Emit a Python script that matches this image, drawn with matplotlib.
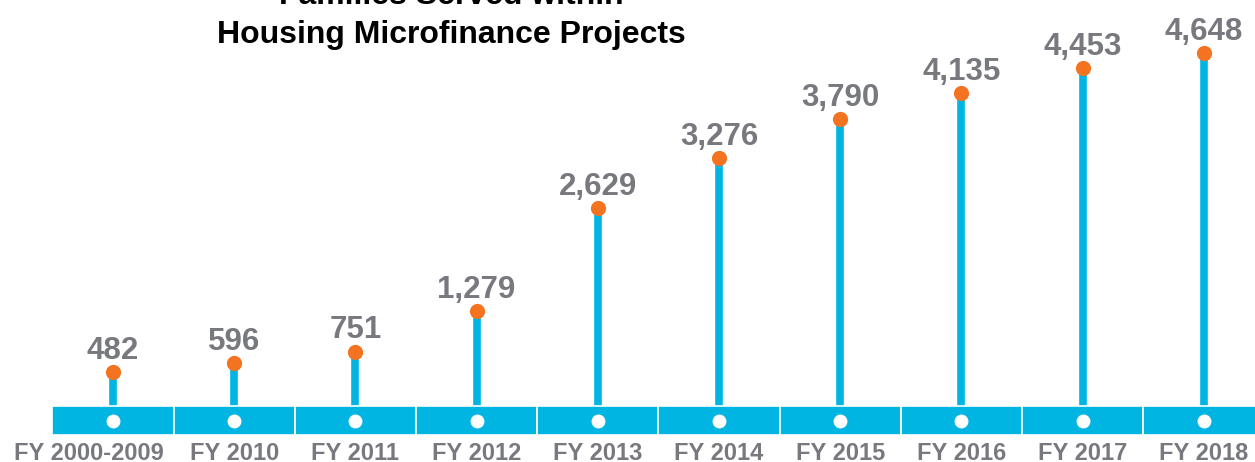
import matplotlib.pyplot as plt

# data
categories = ["FY 2000-2009", "FY 2010", "FY 2011", "FY 2012", "FY 2013",
              "FY 2014", "FY 2015", "FY 2016", "FY 2017", "FY 2018"]
families = [482, 596, 751, 1279, 2629, 3276, 3790, 4135, 4453, 4648]
title_lines = ["Families Served within", "Housing Microfinance Projects"]

BLUE = "#00b5e2"
ORANGE = "#f47321"
GREY = "#77797e"
FONT = ["Liberation Sans", "DejaVu Sans"]

W, H = 1255, 462
fig = plt.figure(figsize=(W / 100, H / 100), dpi=100)
ax = fig.add_axes([0, 0, 1, 1])
ax.set_axis_off()

x = list(range(len(categories)))
xt = ax.get_xaxis_transform()  # x in data, y in axes fraction

# stems behind the band
ax.vlines(x, 0, families, color=BLUE, linewidth=5.5, zorder=1)

# timeline band, one segment per category
band_bottom = 1 - 435 / H
band_top = 1 - 406 / H
ax.bar(x, band_top - band_bottom, bottom=band_bottom, width=1.0, color=BLUE,
       edgecolor="white", linewidth=1.2, transform=xt, zorder=2)
ax.scatter(x, [1 - 421 / H] * len(x), s=100, color="white", transform=xt,
           zorder=3, linewidths=0)

# lollipop heads and value labels
ax.scatter(x, families, s=120, color=ORANGE, zorder=4, linewidths=0)
for xi, v in zip(x, families):
    ax.annotate(f"{v:,}", (xi, v), xytext=(0, 9.4), textcoords="offset points",
                ha="center", va="baseline", fontsize=22.5, fontweight="bold",
                color=GREY, family=FONT)

# category labels under the band
for xi, label in zip(x, categories):
    dx = -17.6 if xi == 0 else 0
    ax.annotate(label, (xi, 1 - 460.5 / H), xycoords=xt, xytext=(dx, 0),
                textcoords="offset points", ha="center", va="baseline",
                fontsize=17, fontweight="bold", color=GREY, family=FONT)

step = 121.2
ax.set_xlim(-113 / step, (W - 113) / step)
px_per_unit = 0.0765
ax.set_ylim(-(H - 409) / px_per_unit, 409 / px_per_unit)

fig.text(451 / W, 1 - 4 / H, title_lines[0], ha="center", va="baseline",
         fontsize=23, fontweight="bold", color="black", family=FONT)
fig.text(451 / W, 1 - 43 / H, title_lines[1], ha="center", va="baseline",
         fontsize=23, fontweight="bold", color="black", family=FONT)

fig.savefig("out.png", dpi=100)
